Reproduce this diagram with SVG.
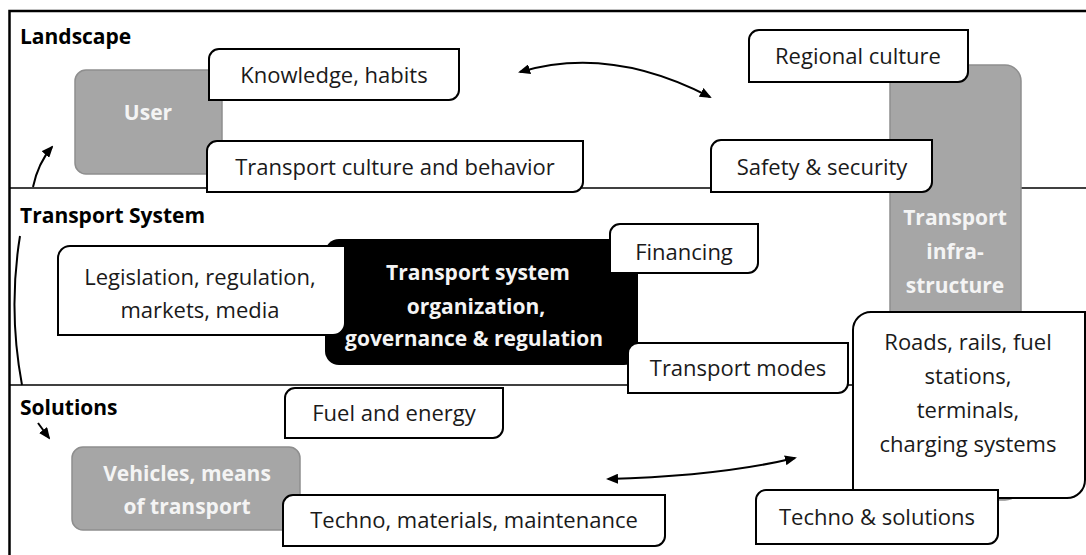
<svg xmlns="http://www.w3.org/2000/svg" width="1086" height="555" viewBox="0 0 1086 555">
<defs>
<style>
.frame{fill:none;stroke:#000;stroke-width:2.5}
.sep{fill:none;stroke:#000;stroke-width:1.6}
.gray{fill:#a6a6a6;stroke:#8e8e8e;stroke-width:1.5}
.blk{fill:#000}
.lbl{fill:#fff;stroke:#000;stroke-width:2}
.t{font-family:"Open Sans","Liberation Sans",sans-serif;font-size:22px;fill:#1a1a1a;text-anchor:middle}
.tb{font-family:"Open Sans","Liberation Sans",sans-serif;font-size:21px;font-weight:bold;fill:#f4f4f4;text-anchor:middle}
.sec{font-family:"Open Sans","Liberation Sans",sans-serif;font-size:21px;font-weight:bold;fill:#000}
.con{fill:none;stroke:#000;stroke-width:2}
</style>
<marker id="ah" viewBox="0 0 12 10" refX="10" refY="5" markerWidth="12" markerHeight="10" markerUnits="userSpaceOnUse" orient="auto-start-reverse">
<path d="M0,0 L12,5 L0,10 Z" fill="#000"/>
</marker>
</defs>

<g id="frame">
<path class="frame" d="M9.5,555 V11 H1086"/>
<line class="sep" x1="9" y1="188" x2="1086" y2="188"/>
<line class="sep" x1="9" y1="385" x2="1086" y2="385"/>
<text class="sec" x="20" y="44">Landscape</text>
<text class="sec" x="20" y="223">Transport System</text>
<text class="sec" x="20" y="415">Solutions</text>
</g>

<g id="connectors">
<path class="con" d="M520,72 Q610,45 710,97" marker-start="url(#ah)" marker-end="url(#ah)"/>
<path class="con" d="M608,479 Q720,476 795,458" marker-start="url(#ah)" marker-end="url(#ah)"/>
<path class="con" d="M33,187 Q38,163 52,147" marker-end="url(#ah)"/>
<path class="con" d="M20,236 Q8,310 22,385"/>
<path class="con" d="M38,423 L49,438" marker-end="url(#ah)"/>
</g>

<g id="user">
<rect class="gray" x="75" y="70" width="147" height="104" rx="11"/>
<text class="tb" x="148" y="120">User</text>
</g>

<g id="infrastructure">
<rect class="gray" x="890" y="65" width="131" height="435" rx="16"/>
<text class="tb" x="955" y="225">Transport</text>
<text class="tb" x="955" y="259">infra-</text>
<text class="tb" x="955" y="293">structure</text>
</g>

<g id="vehicles">
<rect class="gray" x="72" y="447" width="228" height="83" rx="11"/>
<text class="tb" x="187" y="481">Vehicles, means</text>
<text class="tb" x="187" y="514">of transport</text>
</g>

<g id="organization">
<rect class="blk" x="325" y="239" width="313" height="126" rx="14"/>
<text class="tb" x="478" y="280">Transport system</text>
<text class="tb" x="476" y="314">organization,</text>
<text class="tb" x="474" y="346">governance &amp; regulation</text>
</g>

<g id="knowledge">
<path class="lbl" d="M219,49 H459 V90 A10,10 0 0 1 449,100 H209 V59 A10,10 0 0 1 219,49 Z"/>
<text class="t" x="334" y="83">Knowledge, habits</text>
</g>

<g id="culture">
<path class="lbl" d="M217,141 H583 V182 A10,10 0 0 1 573,192 H207 V151 A10,10 0 0 1 217,141 Z"/>
<text class="t" x="395" y="175">Transport culture and behavior</text>
</g>

<g id="regional">
<path class="lbl" d="M759,30 H968 V72 A10,10 0 0 1 958,82 H749 V40 A10,10 0 0 1 759,30 Z"/>
<text class="t" x="858" y="64">Regional culture</text>
</g>

<g id="safety">
<path class="lbl" d="M721,140 H932 V182 A10,10 0 0 1 922,192 H711 V150 A10,10 0 0 1 721,140 Z"/>
<text class="t" x="822" y="175">Safety &amp; security</text>
</g>

<g id="financing">
<path class="lbl" d="M620,224 H758 V263 A10,10 0 0 1 748,273 H610 V234 A10,10 0 0 1 620,224 Z"/>
<text class="t" x="684" y="260">Financing</text>
</g>

<g id="legislation">
<path class="lbl" d="M70,246 H345 V323 A12,12 0 0 1 333,335 H58 V258 A12,12 0 0 1 70,246 Z"/>
<text class="t" x="200" y="285">Legislation, regulation,</text>
<text class="t" x="200" y="318">markets, media</text>
</g>

<g id="modes">
<path class="lbl" d="M638,343 H848 V383 A10,10 0 0 1 838,393 H628 V353 A10,10 0 0 1 638,343 Z"/>
<text class="t" x="738" y="376">Transport modes</text>
</g>

<g id="roads">
<path class="lbl" d="M871,312 H1085 V480 A18,18 0 0 1 1067,498 H853 V330 A18,18 0 0 1 871,312 Z"/>
<text class="t" x="968" y="350">Roads, rails, fuel</text>
<text class="t" x="968" y="384">stations,</text>
<text class="t" x="968" y="418">terminals,</text>
<text class="t" x="968" y="452">charging systems</text>
</g>

<g id="fuel">
<path class="lbl" d="M295,388 H503 V428 A10,10 0 0 1 493,438 H285 V398 A10,10 0 0 1 295,388 Z"/>
<text class="t" x="394" y="421">Fuel and energy</text>
</g>

<g id="materials">
<path class="lbl" d="M293,495 H665 V536 A10,10 0 0 1 655,546 H283 V505 A10,10 0 0 1 293,495 Z"/>
<text class="t" x="474" y="528">Techno, materials, maintenance</text>
</g>

<g id="solutions">
<path class="lbl" d="M766,490 H998 V534 A10,10 0 0 1 988,544 H756 V500 A10,10 0 0 1 766,490 Z"/>
<text class="t" x="877" y="525">Techno &amp; solutions</text>
</g>
</svg>
